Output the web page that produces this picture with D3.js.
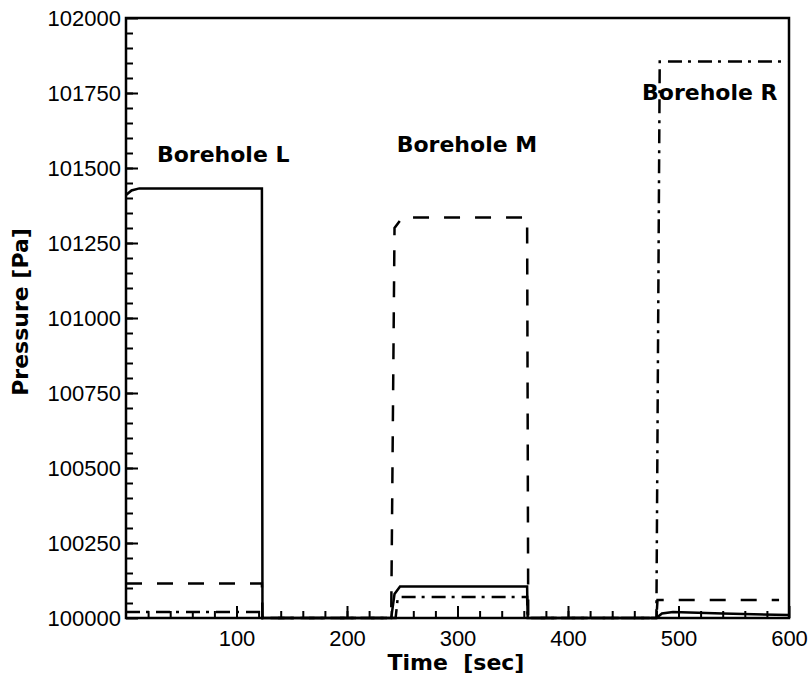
<!DOCTYPE html>
<html>
<head>
<meta charset="utf-8">
<script src="https://cdn.jsdelivr.net/npm/d3@7"></script>
<style>
  body { margin: 0; background: #fff; }
  .tick text { font-family: "Liberation Sans", Arial, sans-serif; font-size: 22px; fill: #000; }
  .title { font-family: "DejaVu Sans", sans-serif; font-weight: bold; font-size: 22px; fill: #000; }
</style>
</head>
<body>
<script>
// time samples (sec) and pressure (Pa) for each curve
var timeL = [0, 5, 12, 123, 123.5, 240, 243, 248, 363, 363.5, 480, 485, 495, 540, 600];
var presL = [101410, 101425, 101432, 101432, 100000, 100000, 100080, 100105, 100105, 100000, 100000, 100015, 100020, 100015, 100010];

var timeM = [0, 123, 123.5, 240, 243, 250, 363, 364, 480, 481, 591];
var presM = [100115, 100115, 100000, 100000, 101300, 101335, 101335, 100000, 100000, 100060, 100060];

var timeR = [0, 123, 123.5, 244, 246, 363, 363.5, 480, 483, 600];
var presR = [100020, 100020, 100000, 100000, 100070, 100070, 100000, 100000, 101855, 101855];

var xTicks = [100, 200, 300, 400, 500, 600];
var yTicks = [100000, 100250, 100500, 100750, 101000, 101250, 101500, 101750, 102000];

var labels = ["Borehole L", "Borehole M", "Borehole R"];
var labelT = [28, 245, 467];
var labelP = [101520, 101553, 101727];

var width = 810, height = 679;
var mLeft = 126, mRight = 789, mTop = 18, mBottom = 618;

var svg = d3.select("body").append("svg")
  .attr("width", width)
  .attr("height", height);

var x = d3.scaleLinear().domain([0, 600]).range([mLeft, mRight]);
var y = d3.scaleLinear().domain([100000, 102000]).range([mBottom, mTop]);

// minor ticks
svg.append("g")
  .attr("transform", "translate(0," + mBottom + ")")
  .call(d3.axisBottom(x).tickValues(d3.range(20, 600, 20)).tickSize(-7).tickFormat(""));
svg.append("g")
  .attr("transform", "translate(" + mLeft + ",0)")
  .call(d3.axisLeft(y).tickValues(d3.range(100050, 102000, 50)).tickSize(-7).tickFormat(""));

// major ticks + labels
svg.append("g")
  .attr("transform", "translate(0," + mBottom + ")")
  .call(d3.axisBottom(x).tickValues(xTicks).tickSize(-12).tickPadding(12).tickFormat(d3.format("d")));
svg.append("g")
  .attr("transform", "translate(" + mLeft + ",0)")
  .call(d3.axisLeft(y).tickValues(yTicks).tickSize(-12).tickPadding(5).tickFormat(d3.format("d")));

svg.selectAll(".domain").remove();
svg.selectAll(".tick line").attr("stroke", "#000").attr("stroke-width", 2);

// frame
svg.append("rect")
  .attr("x", mLeft).attr("y", mTop)
  .attr("width", mRight - mLeft).attr("height", mBottom - mTop)
  .attr("fill", "none").attr("stroke", "#000").attr("stroke-width", 2.5);

var line = d3.line().x(d => x(d[0])).y(d => y(d[1]));

function series(t, p, dash) {
  svg.append("path")
    .datum(d3.zip(t, p))
    .attr("d", line)
    .attr("fill", "none")
    .attr("stroke", "#000")
    .attr("stroke-width", 2.5)
    .attr("stroke-dasharray", dash);
}
series(timeL, presL, null);
series(timeM, presM, "16,15");
series(timeR, presR, "14,6,3,7");

// annotations
svg.selectAll(".lab")
  .data(labels)
  .enter()
  .append("text")
  .attr("class", "title")
  .attr("x", (d, i) => x(labelT[i]))
  .attr("y", (d, i) => y(labelP[i]))
  .text(d => d);

// axis titles
svg.append("text")
  .attr("class", "title")
  .attr("x", 456).attr("y", 670)
  .attr("text-anchor", "middle")
  .style("white-space", "pre")
  .text("Time  [sec]");

svg.append("text")
  .attr("class", "title")
  .attr("transform", "translate(28,312) rotate(-90)")
  .attr("text-anchor", "middle")
  .text("Pressure [Pa]");
</script>
</body>
</html>
